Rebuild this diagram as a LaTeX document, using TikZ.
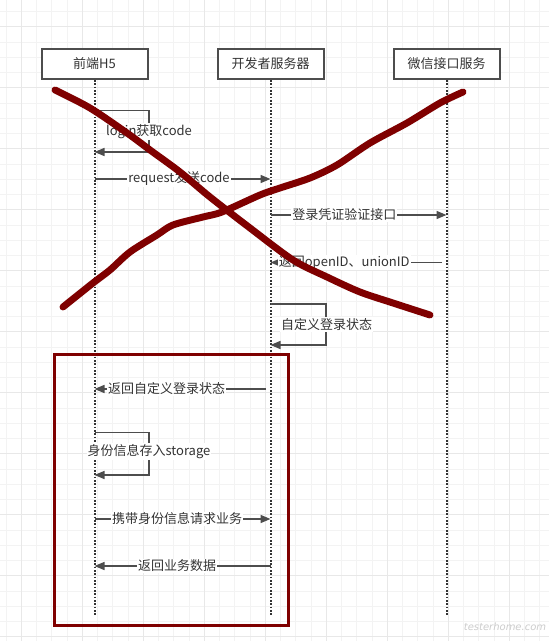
\documentclass[tikz,border=0pt]{standalone}
\usepackage{fontspec}
\setmainfont{Noto Sans CJK SC}
\newfontfamily\wmfont{DejaVu Sans}
\usetikzlibrary{arrows.meta}
\definecolor{gridminor}{HTML}{F3F3F3}
\definecolor{gridmajor}{HTML}{E8E8E8}
\definecolor{boxline}{HTML}{4D4D4D}
\definecolor{txt}{HTML}{333333}
\definecolor{msg}{HTML}{4D4D4D}
\definecolor{cross}{HTML}{7F0000}
\begin{document}
\begin{tikzpicture}[x=0.75pt,y=-0.75pt,
  actor/.style={draw=boxline, line width=1.5pt, fill=white, minimum width=79.5pt, minimum height=22.5pt, inner sep=0pt, text=txt, font=\fontsize{9.75}{12}\selectfont},
  lifeline/.style={draw=txt, line width=1.5pt, dash pattern=on 1.2pt off 1.3pt},
  msgline/.style={draw=msg, line width=1.1pt, -{Triangle[length=7.5pt,width=6pt]}},
  lbl/.style={fill=white, inner sep=0.8pt, text=txt, font=\fontsize{9.75}{12}\selectfont},
  redbox/.style={draw=cross, line width=2.25pt},
  crossline/.style={draw=cross, line width=5.2pt, line cap=round, line join=round}
]
\useasboundingbox (0,0) rectangle (549,641);
\fill[white] (0,0) rectangle (549,641);
% grid
\foreach \k in {0,...,35} { \draw[gridminor, line width=0.75pt] ({6+15.25*\k},0) -- ({6+15.25*\k},641); }
\foreach \k in {0,...,41} { \draw[gridminor, line width=0.75pt] (0,{11.7+15.25*\k}) -- (549,{11.7+15.25*\k}); }
\foreach \k in {1,5,...,33} { \draw[gridmajor, line width=0.75pt] ({6+15.25*\k},0) -- ({6+15.25*\k},641); }
\foreach \k in {1,5,...,41} { \draw[gridmajor, line width=0.75pt] (0,{11.7+15.25*\k}) -- (549,{11.7+15.25*\k}); }

% actors
\node[actor] (h5) at (94.5,64) {前端H5};
\node[actor] (srv) at (270.5,64) {开发者服务器};
\node[actor] (wx) at (446.5,64) {微信接口服务};
\coordinate (h5end) at (94.5,616);
\coordinate (srvend) at (270.5,616);
\coordinate (wxend) at (446.5,616);
\draw[lifeline] (h5.south) -- (h5end);
\draw[lifeline] (srv.south) -- (srvend);
\draw[lifeline] (wx.south) -- (wxend);

% self loop 1
\coordinate (l1a) at (94.5,110.5);
\coordinate (l1b) at (94.5,152);
\draw[msgline] (l1a) -- ++(54.5,0) |- (l1b);
\node[lbl] (lbl1) at (149,131.5) {login获取code};

% message 2
\coordinate (m2a) at (94.5,179);
\coordinate (m2b) at (270.5,179);
\draw[msgline] (m2a) -- (m2b) node[lbl, pos=0.48] (lbl2) {request发送code};

% message 3
\coordinate (m3a) at (270.5,215);
\coordinate (m3b) at (446.5,215);
\draw[msgline] (m3a) -- (m3b) node[lbl, pos=0.42] (lbl3) {登录凭证验证接口};

% message 4
\coordinate (m4a) at (442,262.5);
\coordinate (m4b) at (270.5,262.5);
\draw[msgline] (m4a) -- (m4b) node[lbl, pos=0.57] (lbl4) {返回openID、unionID};

% self loop 2
\coordinate (l2a) at (270.5,304);
\coordinate (l2b) at (270.5,345);
\draw[msgline] (l2a) -- ++(55.5,0) |- (l2b);
\node[lbl] (lbl5) at (326.5,324.5) {自定义登录状态};

% message 6
\coordinate (m6a) at (266,389);
\coordinate (m6b) at (94.5,389);
\draw[msgline] (m6a) -- (m6b) node[lbl, pos=0.58] (lbl6) {返回自定义登录状态};

% self loop 3
\coordinate (l3a) at (94.5,432.5);
\coordinate (l3b) at (94.5,475);
\draw[msgline] (l3a) -- ++(54.5,0) |- (l3b);
\node[lbl] (lbl7) at (149,451.5) {身份信息存入storage};

% message 8
\coordinate (m8a) at (94.5,519);
\coordinate (m8b) at (270.5,519);
\draw[msgline] (m8a) -- (m8b) node[lbl, pos=0.47] (lbl8) {携带身份信息请求业务};

% message 9
\coordinate (m9a) at (270.5,566);
\coordinate (m9b) at (94.5,566);
\draw[msgline] (m9a) -- (m9b) node[lbl, pos=0.53] (lbl9) {返回业务数据};

% red box
\draw[redbox] (54.5,354) rectangle (288,625);

% cross strokes
\draw[crossline] plot[smooth, tension=0.5] coordinates {(55,90) (90,108) (127,133) (150,150) (180,172) (210,197) (250,228) (293,260) (327,277) (360,292) (393,303) (430,315)};
\draw[crossline] plot[smooth, tension=0.5] coordinates {(63,307) (93,283) (110,270) (130,252) (157,235) (173,225) (203,217) (222,212) (260,195) (280,188) (310,178) (337,165) (370,143) (407,123) (440,103) (463,92)};

% watermark
\node[text=black!20, font=\wmfont\itshape\fontsize{7.5}{9}\selectfont, inner sep=0pt] (wm) at (505,627) {testerhome.com};
\end{tikzpicture}
\end{document}
